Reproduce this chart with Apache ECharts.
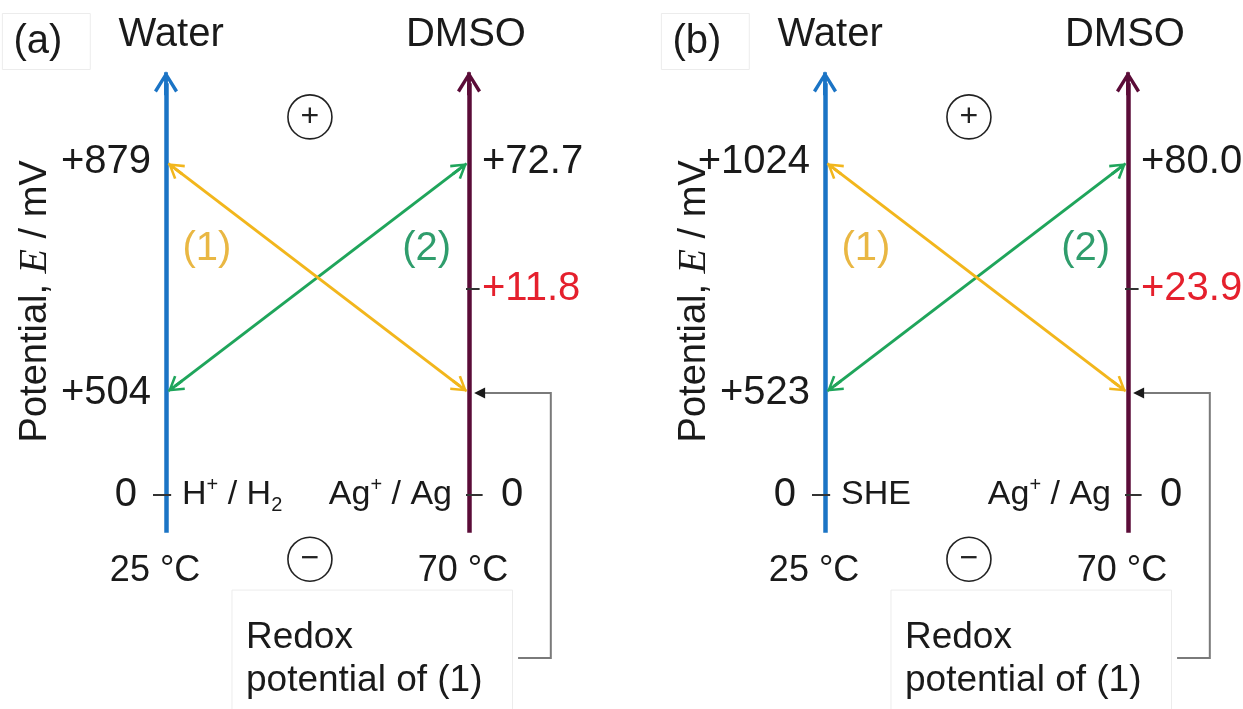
<!DOCTYPE html>
<html><head><meta charset="utf-8">
<script src="https://cdn.jsdelivr.net/npm/echarts@6/dist/echarts.min.js"></script>
<style>html,body{margin:0;padding:0;background:#fff}#c{width:1243px;height:709px}</style>
</head><body><div id="c"></div>
<script>
// ---------------- data ----------------
const panelNames = ['(a)', '(b)'];
const solventNames = ['Water', 'DMSO'];
const tempLabels = ['25 °C', '70 °C'];
// schematic (not-to-scale) levels on each potential axis
const levelUpper = 3.27, levelRed = 2.02, levelLower = 1.0, levelZero = 0;
const waterLabelsA = ['+879', '+504', '0'];     // upper, lower, zero
const dmsoLabelsA  = ['+72.7', '+11.8', '0'];   // upper, red, zero
const waterLabelsB = ['+1024', '+523', '0'];
const dmsoLabelsB  = ['+80.0', '+23.9', '0'];
const waterRefs = ['{t|H}{sup|+}{t| / H}{sub|2}', '{t|SHE}'];
const dmsoRef = '{t|Ag}{sup|+}{t| / Ag}';
const reactionNames = ['(1)', '(2)'];
const yTitle = '{a|Potential, }{e|E}{a| / mV}';
const noteText = 'Redox\npotential of (1)';

// ---------------- layout / styles ----------------
const UX = 303, UY = 103;
const XMIN = -0.54, XMAX = 1.35, YMIN = -2.1, YMAX = 4.6;
const waterPx = [166, 825], zeroPy = 500;
const C_WATER = '#1b74c5', C_DMSO = '#5b0c38', C_Y = '#f2b61c', C_G = '#1fa55b';
const C_Y_T = '#e9b743', C_G_T = '#2f9d6c', C_RED = '#e5202d', C_TXT = '#1a1a1a';
const FONT = '"Liberation Sans", Arial, sans-serif';
const CHEV = 'path://M50,0 L100,80 L88,88 L50,26 L12,88 L0,80 Z M42,4 L58,4 L58,100 L42,100 Z';

function lerp(a, b, t) { return [a[0] + (b[0] - a[0]) * t, a[1] + (b[1] - a[1]) * t]; }

function txt(x, y, text, opts) {
  return { value: [x, y], label: Object.assign({ show: true, formatter: text, color: C_TXT, fontSize: 40, fontFamily: FONT, opacity: 1 }, opts) };
}

function panel(i, wl, dl, waterRef) {
  const ax = { xAxisIndex: i, yAxisIndex: i };
  const s = [];
  // potential axes with arrowheads
  s.push(Object.assign({
    type: 'lines', coordinateSystem: 'cartesian2d', polyline: false, clip: false, z: 2,
    symbol: ['none', CHEV], symbolSize: 24, silent: true,
    data: [
      { coords: [[0, -0.37], [0, 4.04]], lineStyle: { color: C_WATER, width: 4.5, opacity: 1 } },
      { coords: [[1, -0.37], [1, 4.04]], lineStyle: { color: C_DMSO, width: 4.5, opacity: 1 } }
    ]
  }, ax));
  // reaction arrows (1) and (2)
  const r1a = [0, levelUpper], r1b = [1, levelLower];
  const r2a = [0, levelLower], r2b = [1, levelUpper];
  s.push(Object.assign({
    type: 'lines', coordinateSystem: 'cartesian2d', clip: false, z: 3,
    symbol: [CHEV, CHEV], symbolSize: 18, silent: true,
    data: [
      { coords: [lerp(r2a, r2b, 0.03), lerp(r2a, r2b, 0.97)], lineStyle: { color: C_G, width: 3, opacity: 1 } },
      { coords: [lerp(r1a, r1b, 0.03), lerp(r1a, r1b, 0.97)], lineStyle: { color: C_Y, width: 3, opacity: 1 } }
    ]
  }, ax));
  // ticks
  s.push(Object.assign({
    type: 'lines', coordinateSystem: 'cartesian2d', clip: false, z: 4, symbol: 'none', silent: true,
    lineStyle: { color: '#333', width: 2, opacity: 1 },
    data: [
      { coords: [[-0.043, levelZero], [0.017, levelZero]] },
      { coords: [[0.99, levelZero], [1.045, levelZero]] },
      { coords: [[0.99, levelRed], [1.035, levelRed]] }
    ]
  }, ax));
  // connector to note
  s.push(Object.assign({
    type: 'lines', coordinateSystem: 'cartesian2d', polyline: true, clip: false, z: 4,
    symbol: 'none', silent: true,
    lineStyle: { color: '#7a7a7a', width: 2, opacity: 1 },
    data: [{ coords: [[1.162, -1.60], [1.27, -1.60], [1.27, levelLower], [1.045, levelLower]] }]
  }, ax));
  s.push(Object.assign({
    type: 'lines', coordinateSystem: 'cartesian2d', clip: false, z: 5,
    symbol: ['none', 'triangle'], symbolSize: 11, silent: true,
    lineStyle: { color: '#1a1a1a', width: 2, opacity: 1 },
    data: [{ coords: [[1.047, levelLower], [1.035, levelLower]] }]
  }, ax));
  // +/- circles
  s.push(Object.assign({
    type: 'scatter', clip: false, symbol: 'circle', symbolSize: 44, z: 5, silent: true,
    itemStyle: { color: '#fff', borderColor: '#222', borderWidth: 1.6, opacity: 1 },
    label: { show: true, position: 'inside', color: '#222', fontSize: 32, fontFamily: FONT },
    data: [
      { value: [0.475, 3.71], label: { formatter: '+' } },
      { value: [0.475, -0.63], label: { formatter: '−' } }
    ]
  }, ax));
  // texts
  const rich = {
    t: { fontSize: 34, fontFamily: FONT, color: C_TXT, lineHeight: 40 },
    sup: { fontSize: 20, fontFamily: FONT, color: C_TXT, verticalAlign: 'top', lineHeight: 40 },
    sub: { fontSize: 20, fontFamily: FONT, color: C_TXT, verticalAlign: 'bottom', lineHeight: 40 },
    a: { fontSize: 38, fontFamily: FONT, color: C_TXT },
    e: { fontSize: 40, fontFamily: '"Liberation Serif", "DejaVu Serif", serif', fontStyle: 'italic', color: C_TXT }
  };
  const texts = [
    txt(-0.54, 4.45, panelNames[i], { position: 'right', distance: 0, padding: [10, 28, 6, 11], borderColor: '#ececec', borderWidth: 1 }),
    txt(0.017, 4.51, solventNames[0], { position: 'inside' }),
    txt(0.99, 4.51, solventNames[1], { position: 'inside' }),
    txt(0, levelUpper, wl[0], { position: 'left', distance: 15 }),
    txt(0, levelLower, wl[1], { position: 'left', distance: 15 }),
    txt(0, levelZero, wl[2], { position: 'left', distance: 29 }),
    txt(1, levelUpper, dl[0], { position: 'right', distance: 13 }),
    txt(1, levelRed, dl[1], { position: 'right', distance: 13, color: C_RED }),
    txt(1, levelZero, dl[2], { position: 'right', distance: 32 }),
    txt(0, levelZero, waterRef, { position: 'right', distance: 16, rich: rich }),
    txt(1, levelZero, dmsoRef, { position: 'left', distance: 17, rich: rich }),
    txt(-0.036, -0.75, tempLabels[0], { position: 'inside', fontSize: 36 }),
    txt(0.98, -0.75, tempLabels[1], { position: 'inside', fontSize: 36 }),
    txt(0.135, 2.41, reactionNames[0], { position: 'inside', color: C_Y_T }),
    txt(0.86, 2.41, reactionNames[1], { position: 'inside', color: C_G_T }),
    txt(-0.43, 1.9, yTitle, { position: 'inside', rotate: 90, rich: rich }),
    txt(0.264, -1.61, noteText, { position: 'right', distance: -14, align: 'left', fontSize: 37, lineHeight: 43,
      padding: [12, 30, 40, 14], borderColor: '#ececec', borderWidth: 1 })
  ];
  s.push(Object.assign({
    type: 'scatter', clip: false, symbolSize: 0, z: 6, silent: true,
    itemStyle: { opacity: 1 }, data: texts
  }, ax));
  return s;
}

const option = {
  backgroundColor: '#fff',
  animation: false,
  grid: waterPx.map(w => ({ left: w + XMIN * UX, width: (XMAX - XMIN) * UX, top: zeroPy - YMAX * UY, height: (YMAX - YMIN) * UY })),
  xAxis: [0, 1].map(i => ({ type: 'value', gridIndex: i, min: XMIN, max: XMAX, show: false })),
  yAxis: [0, 1].map(i => ({ type: 'value', gridIndex: i, min: YMIN, max: YMAX, show: false })),
  series: [].concat(
    panel(0, waterLabelsA, dmsoLabelsA, waterRefs[0]),
    panel(1, waterLabelsB, dmsoLabelsB, waterRefs[1])
  )
};
const chart = echarts.init(document.getElementById('c'));
chart.setOption(option);
</script></body></html>
